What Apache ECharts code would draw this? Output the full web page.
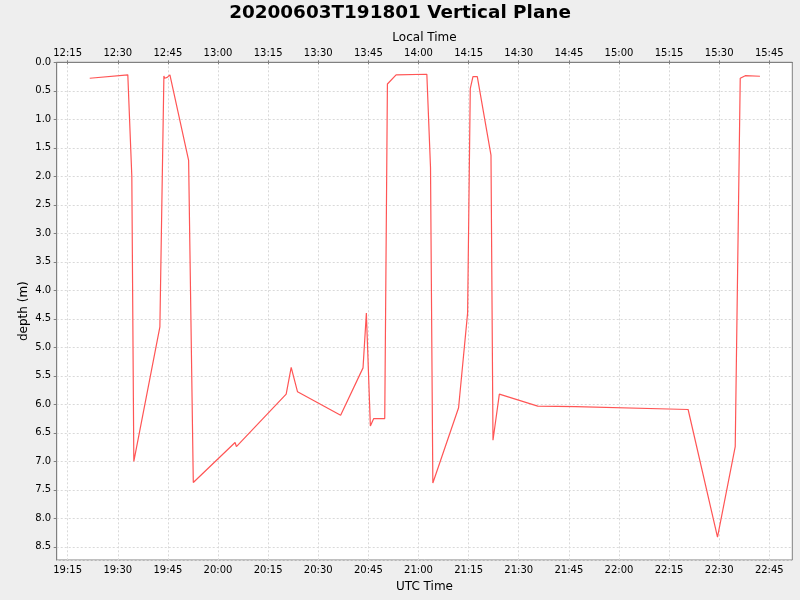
<!DOCTYPE html>
<html>
<head>
<meta charset="utf-8">
<script src="https://cdn.jsdelivr.net/npm/echarts@6/dist/echarts.min.js"></script>
<style>
html,body{margin:0;padding:0;background:#eeeeee;}
#chart{width:800px;height:600px;}
</style>
</head>
<body>
<div id="chart"></div>
<script>
// UTC sample times (HH:MM:SS) and depth in metres
var utcTimes = [
  "19:21:36","19:33:00","19:34:12","19:34:48","19:42:36","19:43:48","19:44:00","19:44:48","19:45:36",
  "19:51:12","19:52:36","20:05:06","20:05:30","20:20:24","20:21:54","20:23:48","20:36:42","20:43:24",
  "20:44:24","20:45:36","20:46:36","20:49:54","20:50:42","20:53:18","21:02:30","21:03:36","21:04:18",
  "21:12:00","21:14:42","21:15:30","21:16:18","21:17:36","21:21:42","21:22:18","21:24:12","21:34:30",
  "21:35:42","21:47:00","22:20:42","22:29:30","22:34:48","22:36:18","22:37:48","22:38:06","22:42:12"
];
var depths = [
  0.28,0.22,2.0,7.0,4.64,0.24,0.28,0.265,0.22,
  1.72,7.37,6.67,6.74,5.82,5.35,5.78,6.19,5.36,
  4.40,6.38,6.25,6.25,0.38,0.22,0.21,1.85,7.38,
  6.06,4.40,0.46,0.25,0.25,1.63,6.63,5.82,6.01,
  6.03,6.04,6.09,8.33,6.74,0.28,0.235,0.26,0.245
];
// tick labels of the bottom (UTC) axis
var utcTicks = ["19:15","19:30","19:45","20:00","20:15","20:30","20:45","21:00",
                "21:15","21:30","21:45","22:00","22:15","22:30","22:45"];
var localOffsetHours = -7;
var xRange = ["19:11:43", "22:51:53"];
var depthRange = [0, 8.73];

function toMin(s){var p=s.split(":");return (+p[0])*60+(+p[1])+(+(p[2]||0))/60;}
function fmt(m){m=Math.round(m);m=((m%1440)+1440)%1440;var h=Math.floor(m/60),mm=m%60;return (h<10?"0":"")+h+":"+(mm<10?"0":"")+mm;}

var seriesData = utcTimes.map(function(t,i){return [toMin(t), depths[i]];});
var tickVals = utcTicks.map(toMin);
var xMin = toMin(xRange[0]), xMax = toMin(xRange[1]);
var font = "DejaVu Sans";

var chart = echarts.init(document.getElementById('chart'), null, {renderer:'canvas'});
function xAxisDef(pos, name, gap, margin, offsetMin, split){
  return {
    type:'value', min:xMin, max:xMax, position:pos, name:name,
    nameLocation:'middle', nameGap:gap,
    nameTextStyle:{fontFamily:font,fontSize:12,color:'#000'},
    axisLine:{show:true,lineStyle:{color:'#808080',width:1}},
    axisTick:{show:true,length:2,inside:false,customValues:tickVals,lineStyle:{color:'#808080'}},
    axisLabel:{fontFamily:font,fontSize:10,color:'#000',margin:margin,customValues:tickVals,
      formatter:function(v){return fmt(v+offsetMin);}},
    splitLine:{show:split,lineStyle:{color:'#d9d9d9',type:[2,2],width:1}}
  };
}
chart.setOption({
  animation:false,
  backgroundColor:'#eeeeee',
  title:{text:'20200603T191801 Vertical Plane',left:'center',top:-1,
    textStyle:{fontFamily:font,fontSize:18.4,fontWeight:'bold',color:'#000'}},
  grid:{left:56.7,right:7.7,top:62.3,bottom:40,show:true,backgroundColor:'#ffffff',borderColor:'#808080',borderWidth:1},
  xAxis:[
    xAxisDef('bottom','UTC Time',21,5,0,true),
    xAxisDef('top','Local Time',18,4,localOffsetHours*60,false)
  ],
  yAxis:{type:'value',inverse:true,min:depthRange[0],max:depthRange[1],interval:0.5,
    name:'depth (m)',nameLocation:'middle',nameGap:27,nameMoveOverlap:false,
    nameTextStyle:{fontFamily:font,fontSize:12,color:'#000'},
    axisLine:{show:true,lineStyle:{color:'#808080'}},
    axisTick:{show:true,length:3,lineStyle:{color:'#808080'}},
    axisLabel:{fontFamily:font,fontSize:10,color:'#000',margin:5.5,showMaxLabel:false,
      formatter:function(v){return v.toFixed(1);}},
    splitLine:{show:true,lineStyle:{color:'#d9d9d9',type:[2,2],width:1}}
  },
  series:[{type:'line',xAxisIndex:0,data:seriesData,showSymbol:false,
    lineStyle:{color:'#ff5555',width:1.2},itemStyle:{color:'#ff5555'}}]
});
</script>
</body>
</html>
